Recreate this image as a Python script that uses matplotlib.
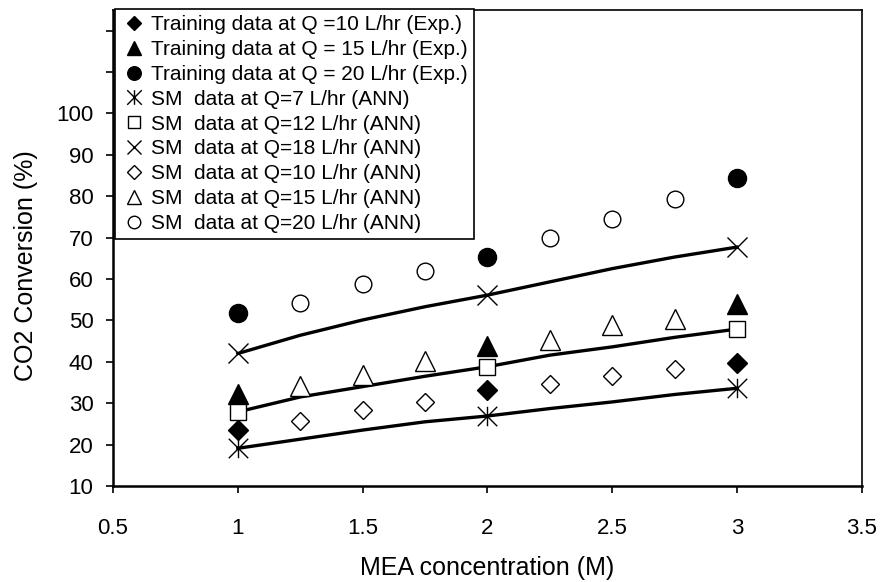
import matplotlib
matplotlib.use("Agg")
import matplotlib.pyplot as plt
from matplotlib.path import Path

plt.rcParams['font.family'] = ['Liberation Sans', 'DejaVu Sans']

# training data (experimental)
x_train = [1, 2, 3]
train_q10 = [23.5, 33.2, 39.8]
train_q15 = [32.2, 43.9, 53.9]
train_q20 = [51.9, 65.3, 84.5]

# ANN points at the same concentrations
x_sm = [1, 2, 3]
sm_q7 = [19.1, 26.9, 33.6]
sm_q12 = [27.9, 38.8, 47.9]
sm_q18 = [42.0, 56.1, 67.7]

# ANN points between the training concentrations
x_mid = [1.25, 1.5, 1.75, 2.25, 2.5, 2.75]
sm_q10 = [25.7, 28.3, 30.2, 34.6, 36.5, 38.2]
sm_q15 = [34.2, 36.9, 40.2, 45.3, 48.8, 50.4]
sm_q20 = [54.1, 58.7, 62.0, 69.8, 74.4, 79.3]

# ANN curves
x_line = [1, 1.25, 1.5, 1.75, 2, 2.25, 2.5, 2.75, 3]
line_q7 = [19.1, 21.3, 23.5, 25.5, 26.9, 28.7, 30.3, 32.1, 33.6]
line_q12 = [27.9, 31.5, 34.0, 36.5, 38.8, 41.6, 43.6, 45.9, 47.9]
line_q18 = [42.0, 46.4, 50.1, 53.3, 56.1, 59.3, 62.5, 65.3, 67.7]

# excel style star: x plus vertical bar
star = Path([(-1, -1), (1, 1), (-1, 1), (1, -1), (0, -1), (0, 1)],
            [Path.MOVETO, Path.LINETO] * 3)

fig = plt.figure(figsize=(8.83, 5.82), dpi=100)
ax = fig.add_axes([0.128, 0.165, 0.848, 0.818])

for yl in (line_q7, line_q12, line_q18):
    ax.plot(x_line, yl, color='black', lw=2.4, zorder=2)

k = dict(ls='none', color='black', zorder=3)
op = dict(ls='none', mfc='white', mec='black', mew=1.0, zorder=3)
ax.plot(x_train, train_q10, marker='D', ms=10, label='Training data at Q =10 L/hr (Exp.)', **k)
ax.plot(x_train, train_q15, marker='^', ms=14, label='Training data at Q = 15 L/hr (Exp.)', **k)
ax.plot(x_train, train_q20, marker='o', ms=13, label='Training data at Q = 20 L/hr (Exp.)', **k)
ax.plot(x_sm, sm_q7, marker=star, ms=14, mew=1.0, label='SM  data at Q=7 L/hr (ANN)', **k)
ax.plot(x_sm, sm_q12, marker='s', ms=12, label='SM  data at Q=12 L/hr (ANN)', **op)
ax.plot(x_sm, sm_q18, marker='x', ms=14, label='SM  data at Q=18 L/hr (ANN)', **op)
ax.plot(x_mid, sm_q10, marker='D', ms=9.5, label='SM  data at Q=10 L/hr (ANN)', **op)
ax.plot(x_mid, sm_q15, marker='^', ms=14, label='SM  data at Q=15 L/hr (ANN)', **op)
ax.plot(x_mid, sm_q20, marker='o', ms=12, label='SM  data at Q=20 L/hr (ANN)', **op)

ax.set_xlim(0.5, 3.5)
ax.set_ylim(10, 125)
ax.set_xticks([0.5, 1, 1.5, 2, 2.5, 3, 3.5])
ax.set_xticklabels(['0.5', '1', '1.5', '2', '2.5', '3', '3.5'])
yt = list(range(10, 130, 10))
ax.set_yticks(yt)
ax.set_yticklabels([str(v) if v <= 100 else '' for v in yt])
ax.tick_params(axis='x', direction='out', length=5, width=1.2, labelsize=16, pad=18)
ax.tick_params(axis='y', direction='out', length=5, width=1.2, labelsize=16, pad=9)

for s in ('left', 'bottom'):
    ax.spines[s].set_linewidth(1.8)
for s in ('top', 'right'):
    ax.spines[s].set_linewidth(1.2)

ax.set_xlabel('MEA concentration (M)', fontsize=18, labelpad=12)
ax.set_ylabel('CO2 Conversion (%)', fontsize=18)
ax.yaxis.set_label_coords(-0.1, 0.462)

leg = ax.legend(loc='upper left', bbox_to_anchor=(0.003, 1.002), borderaxespad=0,
                fontsize=15, frameon=True, fancybox=False, framealpha=1,
                handlelength=1.2, handletextpad=0.2, labelspacing=0.28,
                borderpad=0.3, markerscale=0.75)
leg.get_frame().set_edgecolor('black')
leg.get_frame().set_linewidth(1.2)

fig.savefig('out.png', dpi=100)
